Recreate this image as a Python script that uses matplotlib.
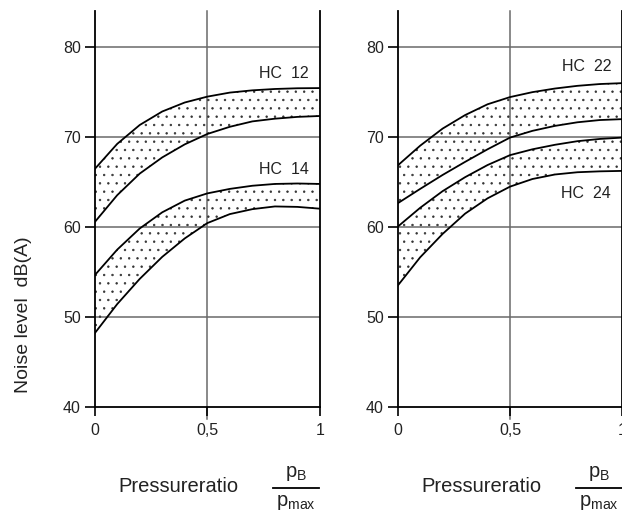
import numpy as np
import matplotlib
matplotlib.use("Agg")
import matplotlib.pyplot as plt
from matplotlib.lines import Line2D

plt.rcParams['font.family'] = ['Liberation Sans', 'DejaVu Sans']
plt.rcParams['hatch.linewidth'] = 0.5

ratio = [0.0, 0.1, 0.2, 0.3, 0.4, 0.5, 0.6, 0.7, 0.8, 0.9, 1.0]

# left chart
hc12_hi = [66.4, 69.2, 71.3, 72.8, 73.8, 74.45, 74.9, 75.15, 75.3, 75.38, 75.4]
hc12_lo = [60.5, 63.5, 65.9, 67.7, 69.15, 70.3, 71.1, 71.7, 72.0, 72.2, 72.3]
hc14_hi = [54.6, 57.45, 59.8, 61.6, 62.9, 63.7, 64.2, 64.55, 64.75, 64.8, 64.75]
hc14_lo = [48.15, 51.4, 54.2, 56.65, 58.7, 60.4, 61.4, 61.95, 62.25, 62.2, 62.0]

# right chart
hc22_hi = [66.8, 69.0, 70.9, 72.4, 73.6, 74.4, 74.95, 75.35, 75.65, 75.85, 75.95]
hc22_lo = [62.6, 64.2, 65.75, 67.2, 68.6, 69.9, 70.65, 71.2, 71.6, 71.85, 71.95]
hc24_hi = [60.0, 62.1, 63.95, 65.5, 66.85, 67.95, 68.6, 69.1, 69.5, 69.75, 69.9]
hc24_lo = [53.45, 56.6, 59.2, 61.45, 63.15, 64.45, 65.3, 65.8, 66.05, 66.15, 66.2]

yticks = [40, 50, 60, 70, 80]
xticks = [0, 0.5, 1]
xticklabels = ["0", "0,5", "1"]

fig = plt.figure(figsize=(6.22, 5.11), dpi=100)
ax1 = fig.add_axes([0.1522, 0.2041, 0.3622, 0.775])
ax2 = fig.add_axes([0.6394, 0.2041, 0.3611, 0.775])

bands = {
    ax1: [(hc12_lo, hc12_hi, "HC  12", 77.0), (hc14_lo, hc14_hi, "HC  14", 66.3)],
    ax2: [(hc22_lo, hc22_hi, "HC  22", 77.8), (hc24_lo, hc24_hi, "HC  24", 63.7)],
}

for ax in [ax1, ax2]:
    ax.set_xlim(0, 1)
    ax.set_ylim(40, 84)
    for yv in yticks[1:]:
        ax.axhline(yv, color="#6a6a6a", lw=1.1, zorder=1)
    ax.axvline(0.5, color="#6a6a6a", lw=1.1, zorder=1, ymin=-0.03, clip_on=False)
    for lo, hi, name, ty in bands[ax]:
        ax.fill_between(ratio, lo, hi, facecolor="none", edgecolor="#333333",
                        hatch="..", linewidth=0, zorder=2)
        ax.plot(ratio, hi, color="black", lw=1.3, zorder=3)
        ax.plot(ratio, lo, color="black", lw=1.3, zorder=3)
        ax.text(0.95, ty, name, ha="right", va="center", fontsize=11.5, color="#222222")
    ax.spines["top"].set_visible(False)
    for s in ["left", "right", "bottom"]:
        ax.spines[s].set_linewidth(1.3)
    ax.set_yticks(yticks)
    ax.set_xticks(xticks)
    ax.set_xticklabels(xticklabels)
    ax.tick_params(axis="both", direction="out", length=7, width=1.2,
                   labelsize=11.5, labelcolor="#222222")
    ax.tick_params(axis="x", length=6.5, pad=5)
    ax.tick_params(axis="y", pad=3)

fig.text(24 / 622, 1 - 315 / 511, "Noise level  dB(A)", rotation=90,
         ha="center", va="center", fontsize=14, color="#222222")

for off in [0, 303]:
    fig.text((178 + off) / 622, 1 - 486 / 511, "Pressureratio", ha="center",
             va="center", fontsize=14.5, color="#222222")
    fig.text((296 + off) / 622, 1 - 473 / 511, r"$\mathregular{p_B}$", ha="center",
             va="center", fontsize=14.5, color="#222222")
    fig.text((296 + off) / 622, 1 - 502 / 511, r"$\mathregular{p_{max}}$", ha="center",
             va="center", fontsize=14.5, color="#222222")
    fig.add_artist(Line2D([(273 + off) / 622, (319 + off) / 622],
                          [1 - 488 / 511, 1 - 488 / 511], color="black", lw=1.3))

fig.savefig("out.png", dpi=100)
